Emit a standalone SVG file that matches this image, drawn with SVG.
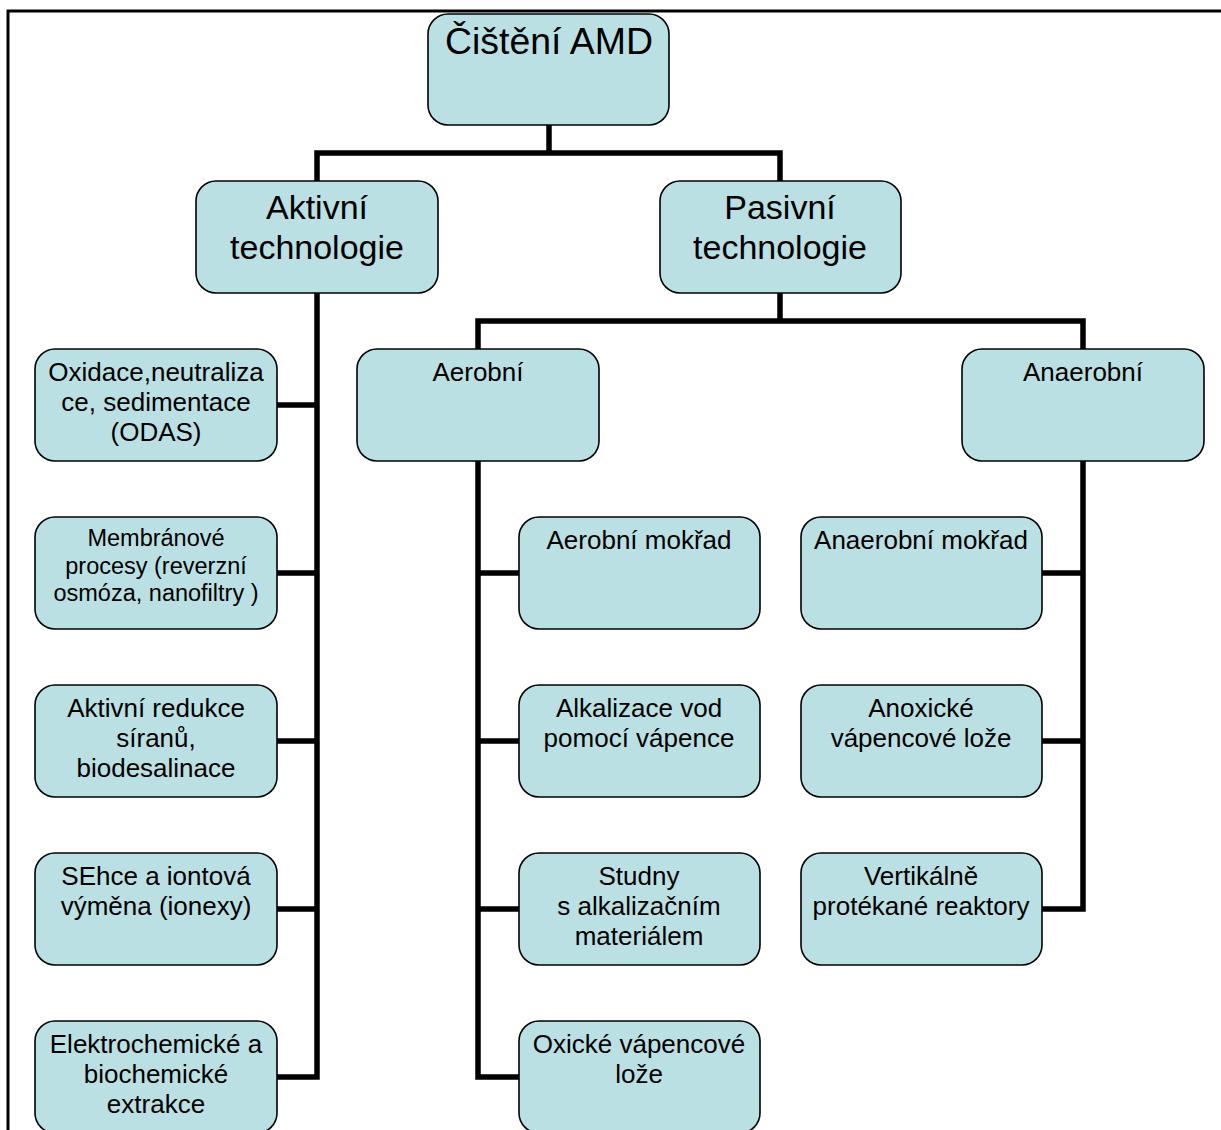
<svg xmlns="http://www.w3.org/2000/svg" width="1221" height="1130" viewBox="0 0 1221 1130">
<style>
.box{fill:#bbe0e3;stroke:#000;stroke-width:1.6}
.t{font-family:"Liberation Sans",Arial,sans-serif;fill:#000;text-anchor:middle}
.s{font-size:26px}
.m{font-size:23.5px}
.l{font-size:34px}
.r{font-size:36px}
.conn{fill:none;stroke:#000;stroke-width:5.5;stroke-linejoin:miter;stroke-linecap:butt}
.frame{fill:none;stroke:#000;stroke-width:3}
</style>
<rect width="1221" height="1130" fill="#fff"/>
<path class="frame" d="M8,1130 V11 H1221"/>
<g id="connectors">
<path class="conn" d="M549,125 V153"/>
<path class="conn" d="M317,181 V153 H780 V181"/>
<path class="conn" d="M277,1077 H317 V293"/>
<path class="conn" d="M277,405 H317 M277,573 H317 M277,741 H317 M277,909 H317"/>
<path class="conn" d="M780,293 V321"/>
<path class="conn" d="M478,349 V321 H1083 V349"/>
<path class="conn" d="M519,1077 H478 V461"/>
<path class="conn" d="M478,573 H519 M478,741 H519 M478,909 H519"/>
<path class="conn" d="M1042,909 H1083 V461"/>
<path class="conn" d="M1042,573 H1083 M1042,741 H1083"/>
</g>
<g id="root">
<rect class="box" x="428" y="14" width="241" height="111" rx="20"/>
<text class="t r" x="549" y="54" textLength="208" lengthAdjust="spacingAndGlyphs">Čištění AMD</text>
</g>
<g id="aktivni">
<rect class="box" x="196" y="181" width="242" height="112" rx="20"/>
<text class="t l" x="317" y="219">Aktivní</text>
<text class="t l" x="317" y="259">technologie</text>
</g>
<g id="pasivni">
<rect class="box" x="660" y="181" width="241" height="112" rx="20"/>
<text class="t l" x="780" y="219">Pasivní</text>
<text class="t l" x="780" y="259">technologie</text>
</g>
<g id="aerobni">
<rect class="box" x="357" y="349" width="242" height="112" rx="20"/>
<text class="t s" x="478" y="381">Aerobní</text>
</g>
<g id="anaerobni">
<rect class="box" x="962" y="349" width="242" height="112" rx="20"/>
<text class="t s" x="1083" y="381">Anaerobní</text>
</g>
<g id="odas">
<rect class="box" x="35" y="349" width="242" height="112" rx="20"/>
<text class="t s" x="156" y="381">Oxidace,neutraliza</text>
<text class="t s" x="156" y="411">ce, sedimentace</text>
<text class="t s" x="156" y="441">(ODAS)</text>
</g>
<g id="membranove">
<rect class="box" x="35" y="517" width="242" height="112" rx="20"/>
<text class="t m" x="156" y="546">Membránové</text>
<text class="t m" x="156" y="574">procesy (reverzní</text>
<text class="t m" x="156" y="601">osmóza, nanofiltry )</text>
</g>
<g id="redukce">
<rect class="box" x="35" y="685" width="242" height="112" rx="20"/>
<text class="t s" x="156" y="717">Aktivní redukce</text>
<text class="t s" x="156" y="747">síranů,</text>
<text class="t s" x="156" y="777">biodesalinace</text>
</g>
<g id="sehce">
<rect class="box" x="35" y="853" width="242" height="112" rx="20"/>
<text class="t s" x="156" y="885">SEhce a iontová</text>
<text class="t s" x="156" y="915">výměna (ionexy)</text>
</g>
<g id="elektro">
<rect class="box" x="35" y="1021" width="242" height="112" rx="20"/>
<text class="t s" x="156" y="1053">Elektrochemické a</text>
<text class="t s" x="156" y="1083">biochemické</text>
<text class="t s" x="156" y="1113">extrakce</text>
</g>
<g id="aerobni-mokrad">
<rect class="box" x="519" y="517" width="241" height="112" rx="20"/>
<text class="t s" x="639" y="549">Aerobní mokřad</text>
</g>
<g id="alkalizace">
<rect class="box" x="519" y="685" width="241" height="112" rx="20"/>
<text class="t s" x="639" y="717">Alkalizace vod</text>
<text class="t s" x="639" y="747">pomocí vápence</text>
</g>
<g id="studny">
<rect class="box" x="519" y="853" width="241" height="112" rx="20"/>
<text class="t s" x="639" y="885">Studny</text>
<text class="t s" x="639" y="915">s alkalizačním</text>
<text class="t s" x="639" y="945">materiálem</text>
</g>
<g id="oxicke">
<rect class="box" x="519" y="1021" width="241" height="112" rx="20"/>
<text class="t s" x="639" y="1053">Oxické vápencové</text>
<text class="t s" x="639" y="1083">lože</text>
</g>
<g id="anaerobni-mokrad">
<rect class="box" x="801" y="517" width="241" height="112" rx="20"/>
<text class="t s" x="921" y="549">Anaerobní mokřad</text>
</g>
<g id="anoxicke">
<rect class="box" x="801" y="685" width="241" height="112" rx="20"/>
<text class="t s" x="921" y="717">Anoxické</text>
<text class="t s" x="921" y="747">vápencové lože</text>
</g>
<g id="vertikalne">
<rect class="box" x="801" y="853" width="241" height="112" rx="20"/>
<text class="t s" x="921" y="885">Vertikálně</text>
<text class="t s" x="921" y="915">protékané reaktory</text>
</g>
</svg>
